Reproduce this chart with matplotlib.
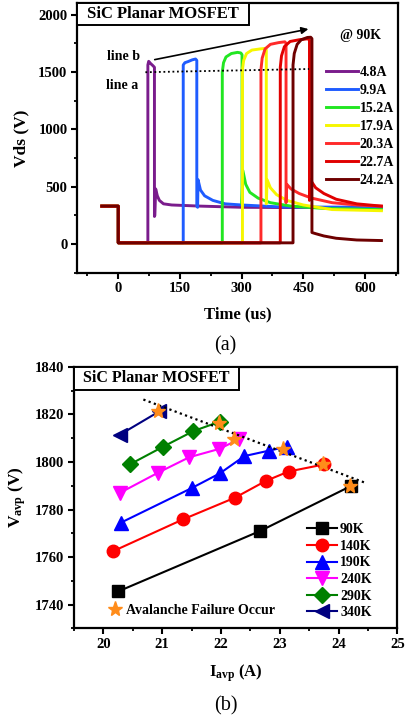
import matplotlib.pyplot as plt
import matplotlib.patches as patches
from matplotlib.lines import Line2D
from matplotlib.ticker import MultipleLocator

plt.rcParams['font.family'] = ['Liberation Serif', 'DejaVu Serif']
plt.rcParams['font.weight'] = 'bold'
plt.rcParams['axes.labelweight'] = 'bold'
plt.rcParams['mathtext.default'] = 'regular'
plt.rcParams['axes.linewidth'] = 1.6

# ---- (a) Vds waveforms at 90K, one per avalanche current ----
currents = ["4.8A", "9.9A", "15.2A", "17.9A", "20.3A", "22.7A", "24.2A"]
wave_colors = ["#7a1c8c", "#1f5cff", "#22e622", "#f6f600", "#ff2a2a", "#e00000", "#6e0000"]

t_48 = [-40, 0, 0, 72, 72, 74, 78, 84, 88, 88, 89, 91, 95, 100, 110, 130, 200, 300, 400, 640]
v_48 = [330, 330, 10, 10, 1560, 1592, 1575, 1555, 1540, 240, 250, 480, 420, 380, 350, 340, 330, 320, 318, 320]

t_99 = [-40, 0, 0, 158, 158, 162, 170, 180, 188, 191, 191, 193, 194, 200, 210, 230, 260, 300, 400, 640]
v_99 = [330, 330, 10, 10, 1560, 1580, 1590, 1605, 1612, 1600, 330, 320, 560, 470, 420, 380, 350, 340, 322, 320]

t_152 = [-40, 0, 0, 253, 253, 256, 262, 275, 290, 298, 301, 301, 303, 310, 320, 340, 370, 420, 500, 640]
v_152 = [330, 330, 10, 10, 1500, 1580, 1630, 1660, 1670, 1665, 1650, 350, 640, 520, 450, 400, 360, 330, 310, 300]

t_179 = [-40, 0, 0, 302, 302, 305, 312, 325, 345, 358, 360, 360, 362, 370, 385, 410, 450, 520, 640]
v_179 = [330, 330, 10, 10, 1520, 1600, 1660, 1690, 1700, 1705, 1690, 350, 560, 490, 430, 380, 340, 300, 290]

t_203 = [-40, 0, 0, 347, 347, 350, 357, 370, 390, 405, 408, 408, 410, 420, 440, 470, 520, 580, 640]
v_203 = [330, 330, 10, 10, 1520, 1620, 1700, 1740, 1755, 1762, 1750, 360, 520, 480, 440, 400, 360, 340, 330]

t_227 = [-40, 0, 0, 394, 394, 397, 404, 418, 440, 460, 465, 465, 467, 480, 500, 530, 580, 640]
v_227 = [330, 330, 10, 10, 1540, 1640, 1720, 1765, 1780, 1788, 1780, 380, 560, 490, 440, 390, 350, 330]

t_242 = [-40, 0, 0, 425, 425, 428, 435, 445, 460, 468, 471, 471, 480, 500, 530, 580, 640]
v_242 = [330, 330, 10, 10, 1560, 1660, 1740, 1780, 1800, 1802, 1790, 100, 90, 70, 50, 35, 30]

wave_t = [t_48, t_99, t_152, t_179, t_203, t_227, t_242]
wave_v = [v_48, v_99, v_152, v_179, v_203, v_227, v_242]

# guide lines drawn over the waveforms
line_a = ([66, 464], [1497, 1525])
arrow_b = ((82, 1602), (469, 1878))

# ---- (b) Vavp vs Iavp for each temperature ----
temps = ["90K", "140K", "190K", "240K", "290K", "340K"]
i_90 = [20.25, 22.67, 24.22]
v_90 = [1745.5, 1771, 1790]
i_140 = [20.17, 21.35, 22.24, 22.76, 23.15, 23.76]
v_140 = [1762.5, 1775.8, 1785, 1792, 1796, 1799]
i_190 = [20.3, 21.5, 21.98, 22.4, 22.82, 23.13]
v_190 = [1774.5, 1789, 1795.2, 1802.5, 1804.8, 1806.5]
i_240 = [20.28, 20.93, 21.46, 21.97, 22.3]
v_240 = [1787, 1795.5, 1802, 1805.5, 1809.5]
i_290 = [20.45, 21.02, 21.53, 21.98]
v_290 = [1799, 1806.5, 1813, 1817]
i_340 = [20.28, 20.95]
v_340 = [1811.5, 1821.3]

fail_i = [20.93, 21.96, 22.23, 23.05, 23.73, 24.2]
fail_v = [1821.5, 1816.5, 1809.8, 1805.3, 1799, 1790]

trend_i = [20.68, 24.46]
trend_v = [1826.3, 1791.2]

curr_i = [i_90, i_140, i_190, i_240, i_290, i_340]
curr_v = [v_90, v_140, v_190, v_240, v_290, v_340]
temp_colors = ["black", "#ff0000", "#0000ff", "#ff00ff", "#008000", "#000080"]
temp_markers = ["s", "o", "^", "v", "D", "<"]
temp_msize = [8, 9, 10, 10, 8, 10]

fig = plt.figure(figsize=(4.06, 7.21), dpi=100)
ax1 = fig.add_axes([0.190, 0.6218, 0.790, 0.374])
ax2 = fig.add_axes([0.1823, 0.1286, 0.7963, 0.3624])

for t, v, c, lab in zip(wave_t, wave_v, wave_colors, currents):
    ax1.plot(t, v, color=c, lw=2.1, label=lab)

ax1.plot(line_a[0], line_a[1], color="black", ls=(0, (1, 1.5)), lw=1.3)
ax1.annotate("", xy=arrow_b[1], xytext=arrow_b[0],
             arrowprops=dict(arrowstyle="-|>", color="black", lw=1.2, mutation_scale=10))
ax1.text(12, 1637, "line b", ha="center", va="center", fontsize=10)
ax1.text(10, 1385, "line a", ha="center", va="center", fontsize=10)
ax1.text(0.885, 0.881, "@ 90K", transform=ax1.transAxes, ha="center", va="center", fontsize=10)

ax1.set_xlim(-100, 680)
ax1.set_ylim(-250, 2100)
ax1.xaxis.set_major_locator(MultipleLocator(150))
ax1.xaxis.set_minor_locator(MultipleLocator(75))
ax1.yaxis.set_major_locator(MultipleLocator(500))
ax1.yaxis.set_minor_locator(MultipleLocator(250))
ax1.set_xlabel("Time (us)", fontsize=12)
ax1.set_ylabel("Vds (V)", fontsize=12.5)
ax1.xaxis.set_label_coords(0.5, -0.125)
ax1.yaxis.set_label_coords(-0.15, 0.5)
ax1.legend(loc="upper left", bbox_to_anchor=(0.775, 0.766), frameon=False, fontsize=10,
           handlelength=2.3, handletextpad=0.15, labelspacing=0.36, borderpad=0, borderaxespad=0)

box1 = patches.Rectangle((0, 1 - 0.0816), 0.536, 0.0816, transform=ax1.transAxes,
                         fc="white", ec="black", lw=1.4, zorder=5)
ax1.add_patch(box1)
ax1.text(0.267, 0.959, "SiC Planar MOSFET", transform=ax1.transAxes, ha="center", va="center",
         fontsize=12, zorder=6)

for x, y, c, m, ms, lab in zip(curr_i, curr_v, temp_colors, temp_markers, temp_msize, temps):
    ax2.plot(x, y, color=c, marker=m, ms=ms, lw=1.5, label=lab)
ax2.plot(trend_i, trend_v, color="black", ls=(0, (1, 1.5)), lw=1.6)
ax2.plot(fail_i, fail_v, ls="none", marker="*", ms=11, color="#ff8c1a", zorder=6)

ax2.set_xlim(19.5, 25)
ax2.set_ylim(1730, 1840)
ax2.xaxis.set_major_locator(MultipleLocator(1))
ax2.xaxis.set_minor_locator(MultipleLocator(0.5))
ax2.yaxis.set_major_locator(MultipleLocator(20))
ax2.yaxis.set_minor_locator(MultipleLocator(10))
ax2.set_xlabel("I$_{avp}$ (A)", fontsize=12)
ax2.set_ylabel("V$_{avp}$ (V)", fontsize=12.5)
ax2.xaxis.set_label_coords(0.5, -0.13)
ax2.yaxis.set_label_coords(-0.142, 0.5)

leg = ax2.legend(loc="upper left", bbox_to_anchor=(0.72, 0.402), frameon=False, fontsize=10,
                 handlelength=2.2, handletextpad=0.2, labelspacing=0.26, borderpad=0, borderaxespad=0)
ax2.add_artist(leg)
star = Line2D([], [], ls="none", marker="*", ms=11, color="#ff8c1a")
ax2.legend([star], ["Avalanche Failure Occur"], loc="upper left", bbox_to_anchor=(0.11, 0.094),
           frameon=False, fontsize=10, handlelength=0.8, handletextpad=0.4,
           borderpad=0, borderaxespad=0)

box2 = patches.Rectangle((0, 1 - 0.088), 0.510, 0.088, transform=ax2.transAxes,
                         fc="white", ec="black", lw=1.4, zorder=5)
ax2.add_patch(box2)
ax2.text(0.255, 0.956, "SiC Planar MOSFET", transform=ax2.transAxes, ha="center", va="center",
         fontsize=11.5, zorder=6)

for ax in (ax1, ax2):
    ax.tick_params(which="major", direction="out", length=4.5, width=1.5, labelsize=10.5, pad=2.5)
    ax.tick_params(which="minor", direction="out", length=2.5, width=1.3)
    ax.tick_params(top=False, right=False)
    for lbl in ax.get_xticklabels() + ax.get_yticklabels():
        lbl.set_fontweight("bold")

fig.text(225 / 406, 1 - 345.7 / 721, "(a)", ha="center", va="center", fontsize=14.5, fontweight="normal")
fig.text(226 / 406, 1 - 705.7 / 721, "(b)", ha="center", va="center", fontsize=14.5, fontweight="normal")

fig.savefig("out.png", dpi=100)
